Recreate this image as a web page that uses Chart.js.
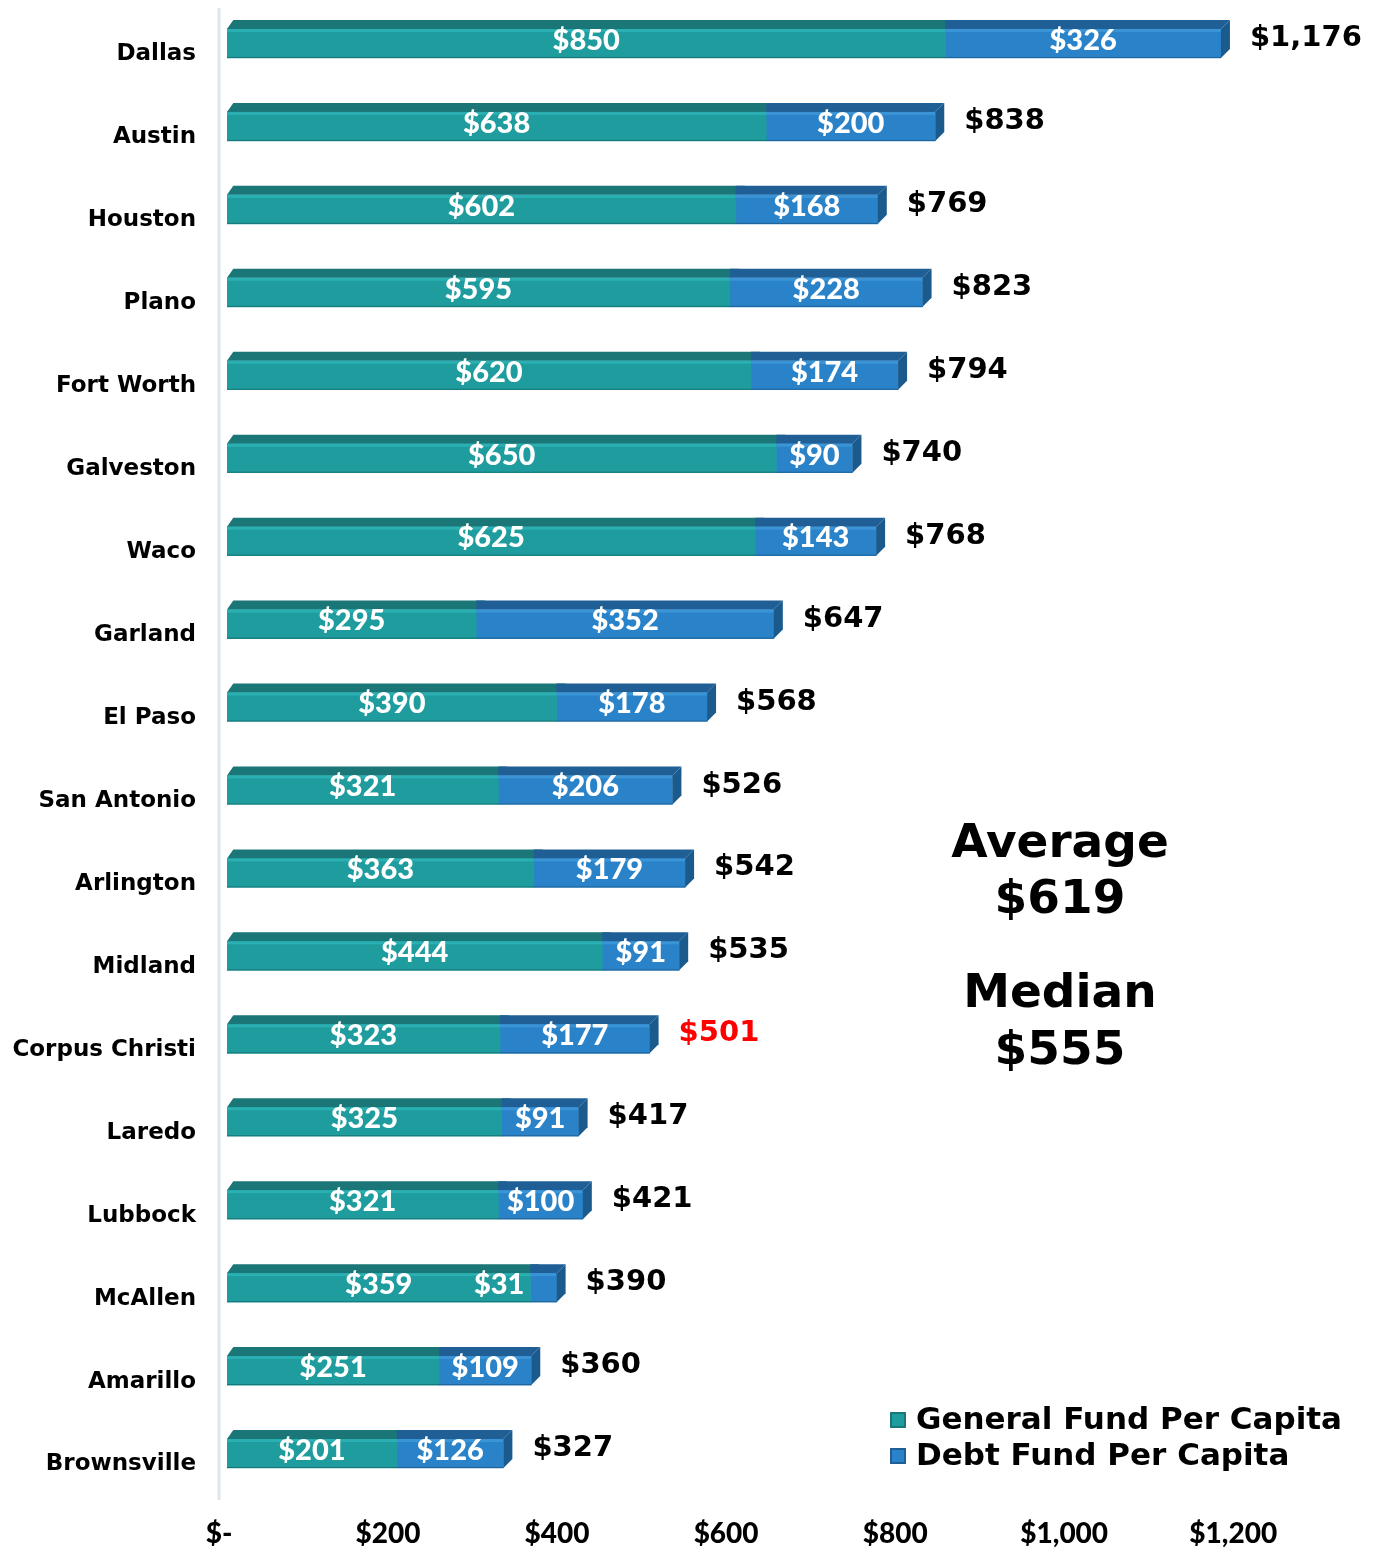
<!DOCTYPE html>
<html>
<head>
<meta charset="utf-8">
<script src="https://cdn.jsdelivr.net/npm/chart.js@4/dist/chart.umd.min.js"></script>
<style>
html,body{margin:0;padding:0;background:#fff;}
#wrap{width:1373px;height:1552px;position:relative;}
</style>
</head>
<body>
<div id="wrap"><canvas id="c" width="1373" height="1552"></canvas></div>
<script>
const cities = ["Dallas","Austin","Houston","Plano","Fort Worth","Galveston","Waco","Garland","El Paso","San Antonio","Arlington","Midland","Corpus Christi","Laredo","Lubbock","McAllen","Amarillo","Brownsville"];
const generalFund = [850,638,602,595,620,650,625,295,390,321,363,444,323,325,321,359,251,201];
const debtFund = [326,200,168,228,174,90,143,352,178,206,179,91,177,91,100,31,109,126];
const totals = [1176,838,769,823,794,740,768,647,568,526,542,535,501,417,421,390,360,327];
const highlightCity = "Corpus Christi";
const seriesNames = ["General Fund Per Capita","Debt Fund Per Capita"];
const summaryLines = ["Average","$619","","Median","$555"];
const xTickStep = 200;

const fmt = v => v === 0 ? "$-" : "$" + v.toLocaleString("en-US");

const COLORS = {
  front: ["#1f9c9e", "#2a83c9"],
  top:   ["#1a7677", "#1f5f96"],
  hi:    ["#2ab0b2", "#3a94d6"],
  side:  "#1b5a8c"
};
const DX = 9, DY = 9;

const bars3d = {
  id: "bars3d",
  afterDatasetsDraw(chart) {
    const ctx = chart.ctx;
    ctx.save();
    const n = chart.data.labels.length;
    for (let i = 0; i < n; i++) {
      chart.data.datasets.forEach((ds, di) => {
        const el = chart.getDatasetMeta(di).data[i];
        if (!el) return;
        const p = el.getProps(["x","y","base","height"], true);
        const left = Math.min(p.x, p.base), right = Math.max(p.x, p.base);
        const top = p.y - p.height/2, bot = p.y + p.height/2;
        ctx.fillStyle = COLORS.top[di];
        ctx.beginPath();
        ctx.moveTo(left, top);
        ctx.lineTo(left + (di === 0 ? DX*0.7 : 0), top - DY);
        ctx.lineTo(right + DX, top - DY);
        ctx.lineTo(right, top);
        ctx.closePath();
        ctx.fill();
        ctx.fillStyle = COLORS.hi[di];
        ctx.fillRect(left, top, right - left, 3);
        ctx.fillStyle = "rgba(0,0,0,0.25)";
        ctx.fillRect(left, bot - 1, right - left, 1);
        if (di === chart.data.datasets.length - 1) {
          ctx.fillStyle = COLORS.side;
          ctx.beginPath();
          ctx.moveTo(right, top);
          ctx.lineTo(right + DX, top - DY);
          ctx.lineTo(right + DX, bot - DY);
          ctx.lineTo(right, bot);
          ctx.closePath();
          ctx.fill();
        }
      });
    }
    ctx.restore();
  }
};

const labelsPlugin = {
  id: "valueLabels",
  afterDatasetsDraw(chart) {
    const ctx = chart.ctx;
    ctx.save();
    ctx.textBaseline = "middle";
    const n = chart.data.labels.length;
    for (let i = 0; i < n; i++) {
      let endX = 0, cy = 0;
      chart.data.datasets.forEach((ds, di) => {
        const el = chart.getDatasetMeta(di).data[i];
        const p = el.getProps(["x","y","base"], true);
        const left = Math.min(p.x, p.base), right = Math.max(p.x, p.base);
        endX = Math.max(endX, right); cy = p.y;
        ctx.font = "900 29px Lato";
        ctx.fillStyle = "#ffffff";
        const txt = fmt(ds.data[i]);
        const w = ctx.measureText(txt).width;
        if (w > right - left) {
          ctx.textAlign = "right";
          ctx.fillText(txt, left - 6, p.y - 3);
        } else {
          ctx.textAlign = "center";
          ctx.fillText(txt, (left + right)/2, p.y - 3);
        }
      });
      ctx.font = "bold 29px 'DejaVu Sans'";
      ctx.textAlign = "left";
      ctx.fillStyle = chart.data.labels[i] === highlightCity ? "#ff0000" : "#000000";
      ctx.fillText(fmt(totals[i]), endX + DX + 20, cy - 5);
    }
    ctx.restore();
  }
};

const extrasPlugin = {
  id: "extras",
  afterDraw(chart) {
    const ctx = chart.ctx;
    const ca = chart.chartArea;
    ctx.save();
    ctx.strokeStyle = "#dde6ec";
    ctx.lineWidth = 3;
    ctx.beginPath();
    ctx.moveTo(ca.left - 8, 8);
    ctx.lineTo(ca.left - 8, 1500);
    ctx.stroke();
    ctx.fillStyle = "#000";
    ctx.font = "bold 47px 'DejaVu Sans'";
    ctx.textAlign = "center";
    ctx.textBaseline = "middle";
    const sx = 1060;
    const ys = [845, 901, 0, 995, 1052];
    summaryLines.forEach((t, k) => { if (t) ctx.fillText(t, sx, ys[k]); });
    ctx.font = "bold 31px 'DejaVu Sans'";
    ctx.textAlign = "left";
    chart.data.datasets.forEach((ds, di) => {
      const y = 1420 + di * 36;
      const bx = 890, bs = 16;
      ctx.fillStyle = COLORS.top[di];
      ctx.fillRect(bx, y - bs/2, bs, bs);
      ctx.fillStyle = COLORS.front[di];
      ctx.fillRect(bx + 2, y - bs/2 + 2, bs - 4, bs - 4);
      ctx.fillStyle = "#000";
      ctx.fillText(ds.label, 916, y + 1);
    });
    ctx.restore();
  }
};

new Chart(document.getElementById("c"), {
  type: "bar",
  data: {
    labels: cities,
    datasets: [
      { label: seriesNames[0], data: generalFund, backgroundColor: COLORS.front[0], barThickness: 29 },
      { label: seriesNames[1], data: debtFund, backgroundColor: COLORS.front[1], barThickness: 29 }
    ]
  },
  options: {
    indexAxis: "y",
    responsive: false,
    animation: false,
    devicePixelRatio: 1,
    layout: { padding: { top: 2, right: 5, left: 0, bottom: 0 } },
    plugins: { legend: { display: false }, tooltip: { enabled: false } },
    scales: {
      x: {
        stacked: true,
        min: 0, max: 1350,
        grid: { display: false, drawTicks: false },
        border: { display: false },
        afterBuildTicks: s => { s.ticks = s.ticks.filter(t => t.value % xTickStep === 0); },
        afterFit: s => { s.height = 57; s.paddingLeft = 0; s.paddingRight = 0; },
        ticks: {
          stepSize: xTickStep,
          autoSkip: false,
          maxRotation: 0,
          padding: 22,
          labelOffset: -8,
          color: "#000",
          font: { family: "Lato", weight: "900", size: 28 },
          callback: v => fmt(v)
        }
      },
      y: {
        stacked: true,
        grid: { display: false, drawTicks: false },
        border: { display: false },
        afterFit: s => { s.width = 227; s.paddingTop = 0; s.paddingBottom = 0; },
        ticks: {
          padding: 31,
          labelOffset: 11,
          color: "#000",
          autoSkip: false,
          font: { family: "DejaVu Sans", weight: "bold", size: 23 }
        }
      }
    }
  },
  plugins: [bars3d, labelsPlugin, extrasPlugin]
});
</script>
</body>
</html>
